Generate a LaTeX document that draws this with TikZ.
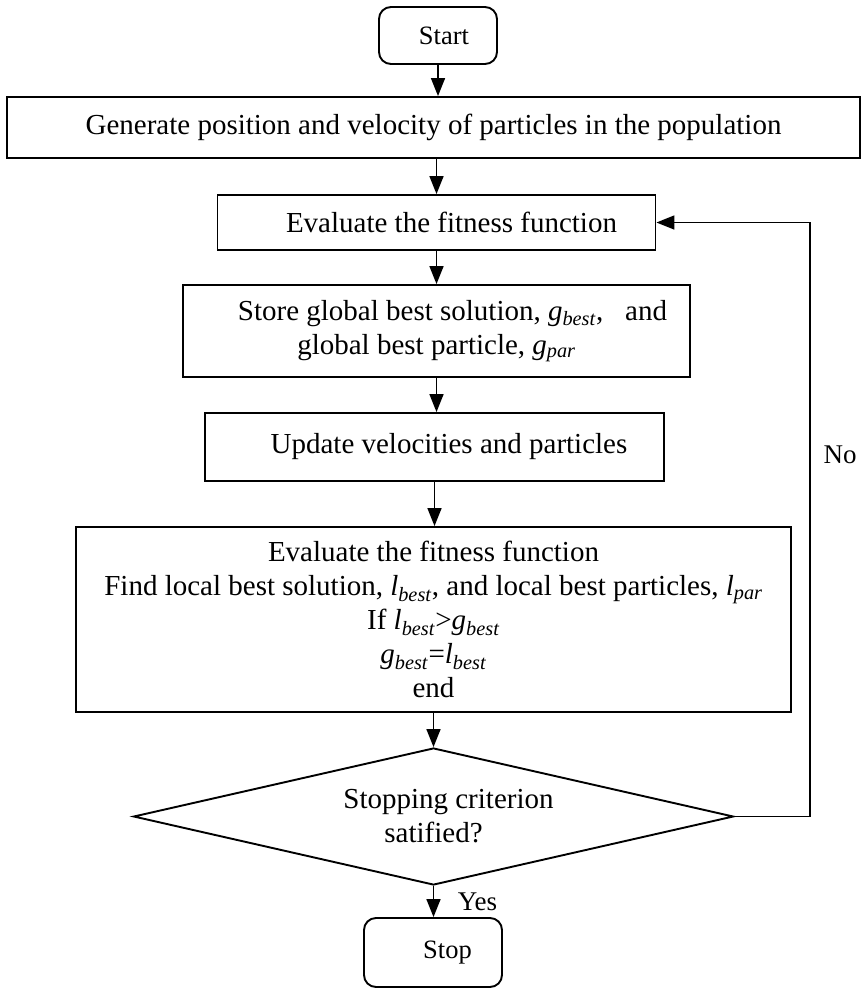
\documentclass[tikz,border=0pt]{standalone}
\usepackage{fontspec}
\setmainfont{Liberation Serif}
\usetikzlibrary{shapes.geometric,arrows.meta}
\newcommand\ib[2]{\textit{#1}\textsubscript{\textit{#2}}}
\tikzset{
  box/.style={draw, line width=1.9pt, inner sep=0pt, align=center, font=\fontsize{29}{34}\selectfont},
  term/.style={box, rounded corners=12pt, font=\fontsize{26.5}{30}\selectfont},
  dec/.style={box, diamond, aspect=4.4},
  arr/.style={line width=1.7pt, -{Triangle[length=18pt,width=14pt]}},
  lbl/.style={inner sep=0pt, font=\fontsize{27}{30}\selectfont}
}
\begin{document}
\begin{tikzpicture}[x=1pt,y=-1pt]
\useasboundingbox (0,0) rectangle (866,989);
\node[term, minimum width=118pt, minimum height=57pt] (start) at (438,35.5) {\hspace*{12pt}Start};
\node[box, minimum width=853pt, minimum height=61pt] (gen) at (433.5,127.5) {Generate position and velocity of particles in the population};
\node[box, minimum width=438pt, minimum height=55pt] (eval) at (436.5,222.5) {\hspace*{30pt}Evaluate the fitness function};
\node[box, minimum width=507pt, minimum height=92pt] (store) at (436.5,331) {\hspace*{32pt}Store global best solution, \ib{g}{best},\ \ \ and\\global best particle, \ib{g}{par}};
\node[box, minimum width=459pt, minimum height=68pt] (upd) at (434.5,447) {\hspace*{29pt}Update velocities and particles};
\node[box, minimum width=715pt, minimum height=185pt] (big) at (433.5,619.5) {Evaluate the fitness function\\Find local best solution, \ib{l}{best}, and local best particles, \ib{l}{par}\\If \ib{l}{best}>\ib{g}{best}\\\ib{g}{best}=\ib{l}{best}\\end};
\node[dec, minimum width=600pt, minimum height=137pt] (dia) at (433.5,816.5) {\hspace*{30pt}Stopping criterion\\satified?};
\node[term, minimum width=138pt, minimum height=69pt] (stop) at (433,952.5) {\hspace*{29pt}Stop};
\node[lbl] (yes) at (477.5,902) {Yes};
\node[lbl] (no) at (840,455) {No};
\coordinate (fb) at (810,816.5);
\draw[arr] (start.south) -- (start.south |- gen.north);
\draw[arr] (eval.north |- gen.south) -- (eval.north);
\draw[arr] (eval.south) -- (eval.south |- store.north);
\draw[arr] (store.south) -- (store.south |- upd.north);
\draw[arr] (upd.south) -- (upd.south |- big.north);
\draw[arr] (big.south -| dia.north) -- (dia.north);
\draw[arr] (dia.south) -- (dia.south |- stop.north);
\draw[line width=1.7pt] (dia.east) -- (fb);
\draw[arr] (fb) |- (eval.east);
\end{tikzpicture}
\end{document}
